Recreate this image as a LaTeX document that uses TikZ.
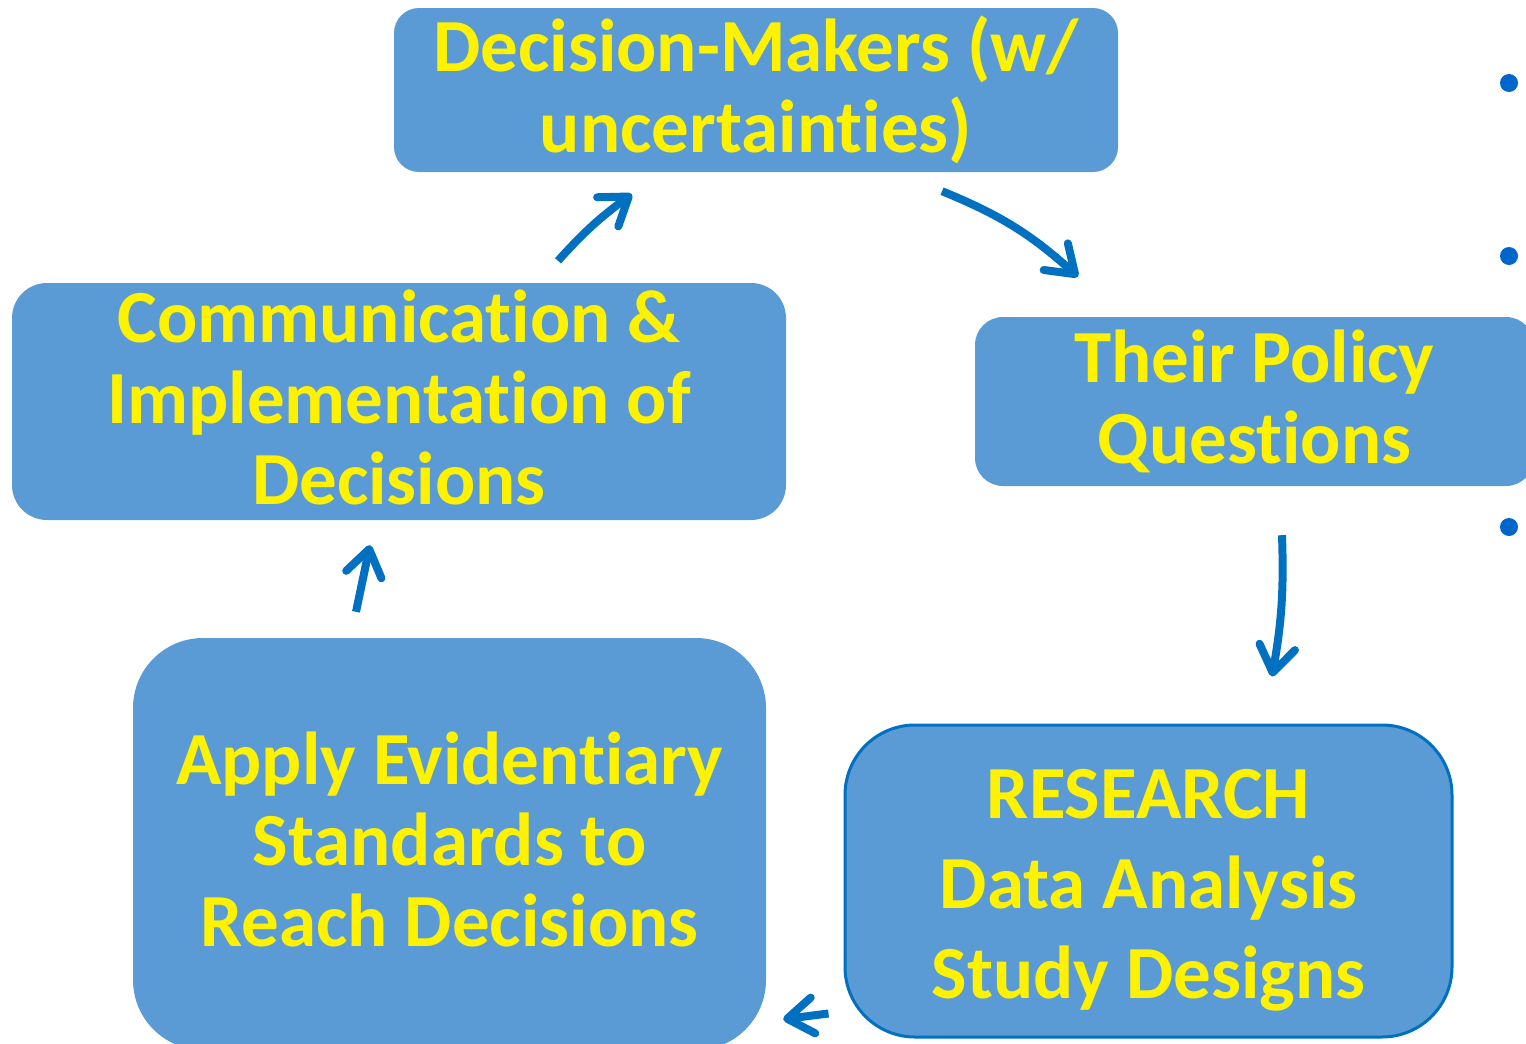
\documentclass[tikz,border=0pt]{standalone}
\usepackage{fontspec}
\setmainfont{Carlito}[Ligatures=NoCommon]
\usetikzlibrary{arrows.meta,calc}
\definecolor{boxblue}{HTML}{5B9BD5}
\definecolor{arrowblue}{HTML}{0070C0}
\definecolor{dotblue}{HTML}{0066CC}

\begin{document}
\begin{tikzpicture}[x=1pt,y=-1pt,
    box/.style={fill=boxblue,text=yellow,align=center,inner sep=0pt,font=\bfseries\fontsize{75}{81}\selectfont},
    flow/.style={draw=arrowblue,line width=8pt,-{Straight Barb[length=26pt,width=36pt,round]}},
    dot/.style={circle,fill=dotblue,inner sep=0pt,minimum size=18pt}]
    \useasboundingbox (0,0) rectangle (1526,1044);
    % the cycle of boxes
    \node [box,minimum width=724,minimum height=164,rounded corners=25] (dm) at (756,90) {Decision-Makers (w/\\uncertainties)};
    \node [box,minimum width=774,minimum height=237,rounded corners=35] (comm) at (399,401.5) {Communication \&\\Implementation of\\Decisions\rule[-8pt]{0pt}{8pt}};
    \node [box,minimum width=559,minimum height=169,rounded corners=28] (policy) at (1254.5,401.5) {Their Policy\\Questions};
    \node [box,minimum width=633,minimum height=412,rounded corners=70] (apply) at (449.5,844) {Apply Evidentiary\\Standards to\\Reach Decisions\rule[-9pt]{0pt}{9pt}};
    \node [box,draw=arrowblue,line width=3pt,minimum width=607,minimum height=312,rounded corners=70,
        font=\bfseries\fontsize{75}{90}\selectfont] (research) at (1148.5,881) {\rule{0pt}{68pt}RESEARCH\\Data Analysis\\Study Designs};
    % arrows
    \draw [flow] ($(comm.north)+(159,-22)$) to[bend left=6] ($(dm.south)+(-124,22)$);
    \draw [flow] ($(dm.south)+(186,19)$) to[bend left=10] ($(policy.north)+(-176.5,-40)$);
    \draw [flow] ($(policy.south)+(27.5,49)$) to[bend left=6] ($(research.north)+(123.5,-47)$);
    \draw [flow] ($(research.south west)+(-15,-25)$) -- ($(apply.south east)+(17,-31)$);
    \draw [flow] ($(apply.north)+(-93.5,-26)$) -- ($(comm.south)+(-29,25)$);
    % bullets at the right edge
    \node [dot] (b1) at (1509,83) {};
    \node [dot] (b2) at (1509,256) {};
    \node [dot] (b3) at (1509,527) {};
\end{tikzpicture}
\end{document}
